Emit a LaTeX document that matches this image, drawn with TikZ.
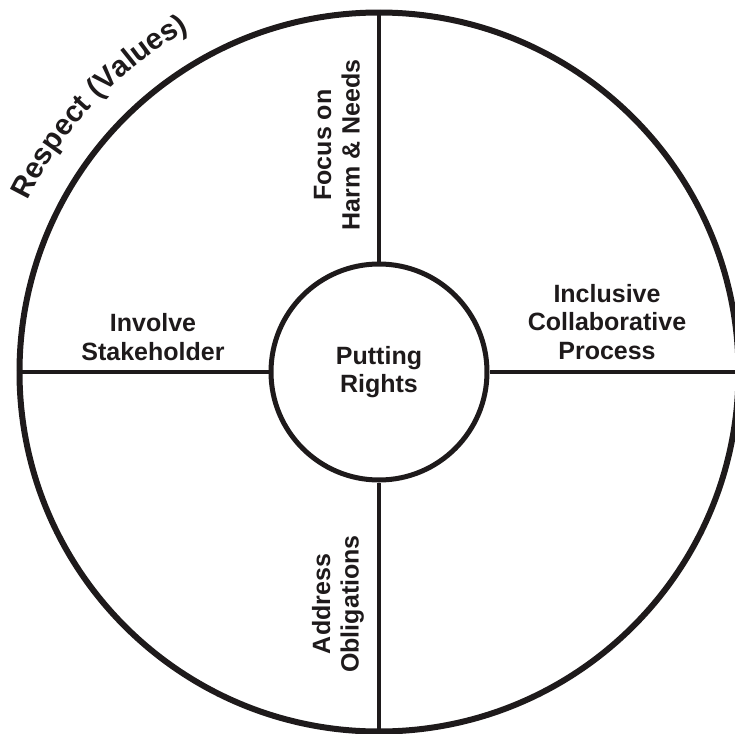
\documentclass[tikz,border=0pt]{standalone}
\usepackage{fontspec}
\setmainfont{Liberation Sans}
\usetikzlibrary{decorations.text}
\definecolor{ink}{RGB}{30,26,27}
\newcommand{\lblfont}{\bfseries\fontsize{25}{28.5}\selectfont}
\newcommand{\arcfont}{\bfseries\fontsize{29.5}{33}\selectfont}
\begin{document}
\begin{tikzpicture}[x=1pt,y=1pt,
  ring/.style={draw=ink,circle,line width=6pt,minimum size=719pt,inner sep=0pt},
  hubstyle/.style={draw=ink,circle,line width=5pt,minimum size=216pt,inner sep=0pt,
    font=\lblfont,align=center,text=ink},
  spoke/.style={draw=ink,line width=4pt},
  lbl/.style={font=\lblfont,align=center,text=ink,inner sep=0pt}]
\useasboundingbox (0,0) rectangle (734,-734);
\node[ring] (outer) at (379,-372) {};
\node[hubstyle] (hub) at (379,-372) {Putting\\Rights};
\draw[spoke] (outer.north) -- (hub.north);
\draw[spoke] (outer.south) -- (hub.south);
\draw[spoke] (outer.west) -- (hub.west);
\draw[spoke] (outer.east) -- (hub.east);
\node[lbl,rotate=90] (focus) at (337,-145) {Focus on\\Harm \& Needs};
\node[lbl,rotate=90] (address) at (338,-604) {Address\\Obligations};
\node[lbl] (involve) at (153,-337) {Involve\\Stakeholder};
\node[lbl] (inclusive) at (607,-322) {Inclusive\\Collaborative\\Process};
\path[decorate,decoration={text along path,text align=center,
   text={|\arcfont\color{ink}|Respect (Values)}}]
   (outer.center) ++(158:391pt) arc[start angle=158,end angle=115,radius=391pt];
\end{tikzpicture}
\end{document}
